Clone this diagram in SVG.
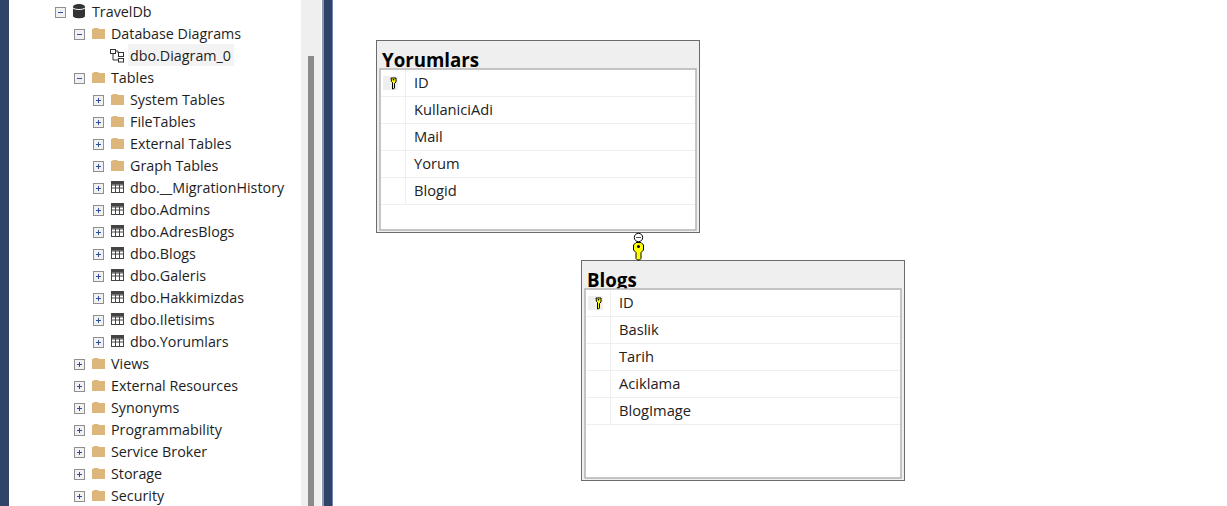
<svg xmlns="http://www.w3.org/2000/svg" width="1227" height="506" viewBox="0 0 1227 506">
<style>
text{font-family:"Open Sans","Noto Sans","Liberation Sans",sans-serif;fill:#1e1e1e}
.t{font-size:14.3px}
.h{font-size:18.7px;font-weight:700;fill:#000}
.f{font-size:14.7px;fill:#222}
.box{fill:#efefef;stroke:#6b6b6b;stroke-width:1}
.inner{fill:#fff;stroke:#b4b4b4;stroke-width:1.5}
.sep{stroke:#efefef;stroke-width:1;fill:none}
.fold{fill:#dcb67a}
.exp{fill:#f1f1f1;stroke:#8f8f8f;stroke-width:1}
.sign{stroke:#2f4f9a;stroke-width:1;fill:none}
.key{fill:#ffff00;stroke:#000;stroke-width:1}
</style>
<defs>
<g id="folder"><path class="fold" d="M0 2h1l1-1h4l1 1h6v10H0z"/></g>
<g id="plus"><rect class="exp" x="-4.500" y="-4.500" width="10" height="10"/><path class="sign" d="M-2 .5h5M.5-2v5"/></g>
<g id="minus"><rect class="exp" x="-4.500" y="-4.500" width="10" height="10"/><path class="sign" d="M-2 .5h5"/></g>
<g id="tbl"><rect x="0" y="0" width="12" height="11" fill="#fff" stroke="#444"/><path d="M0 0h12v3H0z" fill="#444"/><path d="M0 3.500h12M0 6.500h12M4 3v8M8 3v8" stroke="#444" fill="none"/></g>
<g id="k"><path class="key" d="M-2.500 0h5v4l-1.500 1.500v4.500l-1 1h-1v-6.500l-1-1z"/><rect x="-.7" y="1" width="1.400" height="1.400" fill="#000"/></g>
</defs>
<rect width="1227" height="506" fill="#fff"/>
<rect x="0" y="0" width="9" height="506" fill="#2f4468"/>
<rect x="301" y="0" width="20" height="506" fill="#efefef"/>
<rect x="308" y="56" width="6" height="450" fill="#8a8a8a"/>
<rect x="322" y="0" width="2" height="506" fill="#8b95ad"/>
<rect x="324" y="0" width="8" height="506" fill="#2f4468"/>
<rect x="332" y="0" width="1" height="506" fill="#6f86b5"/>
<g id="tree">
<rect x="128" y="44" width="106" height="22" fill="#f3f3f3"/>
<use href="#minus" x="60" y="12"/><path d="M73 7c0-4 12-4 12 0v9c0 3-12 3-12 0z" fill="#333"/><path d="M73 8c2 2 10 2 12 0" stroke="#fff" fill="none"/>
<text class="t" x="92" y="17">TravelDb</text>
<use href="#minus" x="79" y="34"/><use href="#folder" x="92" y="27"/>
<text class="t" x="111" y="39">Database Diagrams</text>
<g fill="none" stroke="#333"><rect x="110.500" y="49.500" width="5" height="4"/><rect x="118.500" y="52.500" width="5" height="4"/><rect x="118.500" y="58.500" width="5" height="3.500"/><path d="M113 54v6h5M116 51h2v2"/></g>
<text class="t" x="130" y="61">dbo.Diagram_0</text>
<use href="#minus" x="79" y="78"/><use href="#folder" x="92" y="71"/>
<text class="t" x="111" y="83">Tables</text>
<use href="#plus" x="98" y="100"/><use href="#folder" x="111" y="93"/><text class="t" x="130" y="105">System Tables</text>
<use href="#plus" x="98" y="122"/><use href="#folder" x="111" y="115"/><text class="t" x="130" y="127">FileTables</text>
<use href="#plus" x="98" y="144"/><use href="#folder" x="111" y="137"/><text class="t" x="130" y="149">External Tables</text>
<use href="#plus" x="98" y="166"/><use href="#folder" x="111" y="159"/><text class="t" x="130" y="171">Graph Tables</text>
<use href="#plus" x="98" y="188"/><use href="#tbl" x="111.500" y="181.500"/><text class="t" x="130" y="193">dbo.__MigrationHistory</text>
<use href="#plus" x="98" y="210"/><use href="#tbl" x="111.500" y="203.500"/><text class="t" x="130" y="215">dbo.Admins</text>
<use href="#plus" x="98" y="232"/><use href="#tbl" x="111.500" y="225.500"/><text class="t" x="130" y="237">dbo.AdresBlogs</text>
<use href="#plus" x="98" y="254"/><use href="#tbl" x="111.500" y="247.500"/><text class="t" x="130" y="259">dbo.Blogs</text>
<use href="#plus" x="98" y="276"/><use href="#tbl" x="111.500" y="269.500"/><text class="t" x="130" y="281">dbo.Galeris</text>
<use href="#plus" x="98" y="298"/><use href="#tbl" x="111.500" y="291.500"/><text class="t" x="130" y="303">dbo.Hakkimizdas</text>
<use href="#plus" x="98" y="320"/><use href="#tbl" x="111.500" y="313.500"/><text class="t" x="130" y="325">dbo.Iletisims</text>
<use href="#plus" x="98" y="342"/><use href="#tbl" x="111.500" y="335.500"/><text class="t" x="130" y="347">dbo.Yorumlars</text>
<use href="#plus" x="79" y="364"/><use href="#folder" x="92" y="357"/><text class="t" x="111" y="369">Views</text>
<use href="#plus" x="79" y="386"/><use href="#folder" x="92" y="379"/><text class="t" x="111" y="391">External Resources</text>
<use href="#plus" x="79" y="408"/><use href="#folder" x="92" y="401"/><text class="t" x="111" y="413">Synonyms</text>
<use href="#plus" x="79" y="430"/><use href="#folder" x="92" y="423"/><text class="t" x="111" y="435">Programmability</text>
<use href="#plus" x="79" y="452"/><use href="#folder" x="92" y="445"/><text class="t" x="111" y="457">Service Broker</text>
<use href="#plus" x="79" y="474"/><use href="#folder" x="92" y="467"/><text class="t" x="111" y="479">Storage</text>
<use href="#plus" x="79" y="496"/><use href="#folder" x="92" y="489"/><text class="t" x="111" y="501">Security</text>
</g>
<g id="node-yorumlars">
<rect class="box" x="376.500" y="40.500" width="323" height="192"/>
<text class="h" x="382" y="67">Yorumlars</text>
<rect class="inner" x="380" y="69" width="316" height="161"/>
<rect x="383" y="76" width="15" height="14" fill="#efefef"/>
<path class="sep" d="M381 96.500h314M381 123.500h314M381 150.500h314M381 177.500h314M381 204.500h314M405.500 70v134"/>
<use href="#k" x="393.500" y="78"/>
<text class="f" x="414" y="88">ID</text>
<text class="f" x="414" y="115">KullaniciAdi</text>
<text class="f" x="414" y="142">Mail</text>
<text class="f" x="414" y="169">Yorum</text>
<text class="f" x="414" y="196">Blogid</text>
</g>
<g id="node-blogs">
<rect class="box" x="581.500" y="260.500" width="323" height="220"/>
<text class="h" x="587" y="287">Blogs</text>
<rect class="inner" x="585" y="289" width="316" height="189"/>
<rect x="588" y="296" width="15" height="14" fill="#efefef"/>
<path class="sep" d="M586 316.500h314M586 343.500h314M586 370.500h314M586 397.500h314M586 424.500h314M610.500 290v134"/>
<use href="#k" x="598.500" y="298"/>
<text class="f" x="619" y="308">ID</text>
<text class="f" x="619" y="335">Baslik</text>
<text class="f" x="619" y="362">Tarih</text>
<text class="f" x="619" y="389">Aciklama</text>
<text class="f" x="619" y="416">BlogImage</text>
</g>
<g id="connectors">
<circle cx="638.500" cy="237.500" r="4.200" fill="#fff" stroke="#000"/>
<path d="M636 237.500h5" stroke="#555" fill="none"/>
<path d="M636 252.500l-2.500-2.500v-5l2.500-2.500h5l2.500 2.500v5l-2.500 2.500v6l-1.500 1.500h-2l-1.500-1.500z" fill="#ffff00" stroke="#000"/>
<circle cx="638.500" cy="246.500" r="1.500" fill="#000"/>
</g>
</svg>
